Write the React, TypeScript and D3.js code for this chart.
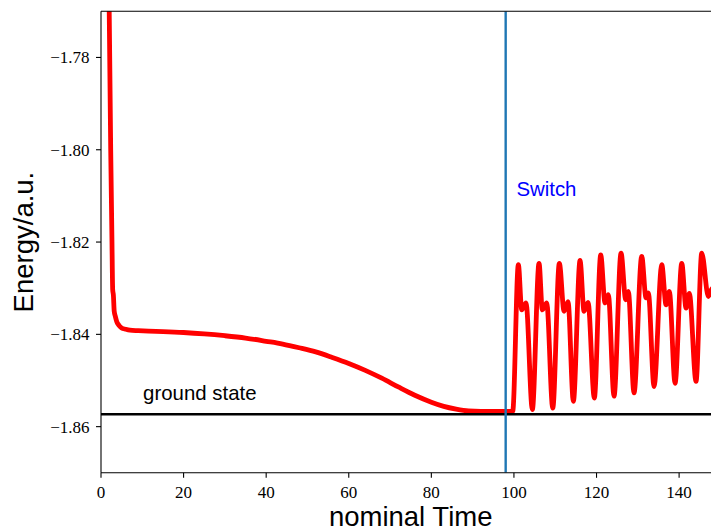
import React from "react";
import * as d3 from "d3";

// ---- data ----
const timeValues: number[] = [
  1.75, 2.35, 2.66, 2.83, 3.0, 3.2, 3.5, 3.8, 4.3, 5.0, 6.0, 7.0, 9.0, 11.5, 15, 20, 25, 30, 35, 40, 44, 48, 52, 56,
  60, 64, 68, 72, 76, 80, 83, 86, 89, 92, 96, 99.7,
  101.07, 101.89, 102.93, 104.46,
  106.08, 106.88, 107.94, 109.4,
  111.0, 112.14, 113.1, 114.39,
  116.01, 116.98, 117.95, 119.47,
  121.02, 122.06, 122.86, 124.24,
  125.94, 127.07, 127.7, 129.08,
  130.95, 131.99, 132.55, 133.93,
  135.8, 136.84, 137.64, 139.02,
  140.64, 141.68, 142.48, 144.1,
  145.48, 147.08, 148.0, 149.5,
];
const energyValues: number[] = [
  -1.75, -1.8, -1.8202, -1.8303, -1.8315, -1.835, -1.8362, -1.8372, -1.838, -1.8386, -1.8389, -1.8391, -1.8392,
  -1.8393, -1.8394, -1.8396, -1.8399, -1.8403, -1.8408, -1.8415, -1.8421, -1.8429, -1.8438, -1.845,
  -1.8463, -1.8478, -1.8495, -1.8514, -1.8532, -1.8547, -1.8556, -1.8562, -1.8566, -1.8567, -1.8567, -1.8567,
  -1.8249, -1.8347, -1.8332, -1.8563,
  -1.8246, -1.8347, -1.8332, -1.856,
  -1.8246, -1.835, -1.8329, -1.8545,
  -1.824, -1.835, -1.8331, -1.8538,
  -1.8228, -1.8332, -1.8314, -1.8534,
  -1.8224, -1.8325, -1.8307, -1.8527,
  -1.8231, -1.8321, -1.831, -1.8513,
  -1.8249, -1.8336, -1.8307, -1.8506,
  -1.8246, -1.8343, -1.8311, -1.8502,
  -1.8224, -1.8318, -1.83, -1.85,
];
const groundStateEnergy = -1.8573;
const switchTime = 98.0;
const xTicks: number[] = [0, 20, 40, 60, 80, 100, 120, 140];
const yTicks: number[] = [-1.86, -1.84, -1.82, -1.8, -1.78];
const xDomain: [number, number] = [0, 150];
const yDomain: [number, number] = [-1.87, -1.77];
const switchLabel = { x: 100.6, y: -1.8101, text: "Switch" };
const groundLabel = { x: 10.2, y: -1.8543, text: "ground state" };

const W = 711;
const H = 528;
const L = 101;
const R = 720.4;
const T = 11.3;
const B = 472.8;

export default function App() {
  const x = d3.scaleLinear().domain(xDomain).range([L, R]);
  const y = d3.scaleLinear().domain(yDomain).range([B, T]);
  const pts: [number, number][] = timeValues.map((t, i) => [t, energyValues[i]]);
  const line = d3
    .line<[number, number]>()
    .x((d) => x(d[0]))
    .y((d) => y(d[1]))
    .curve(d3.curveMonotoneX);
  const fmt = (v: number) => (v < 0 ? "\u2212" : "") + Math.abs(v).toFixed(2);
  const sans = "'Liberation Sans', Arial, Helvetica, sans-serif";
  const serif = "'Liberation Serif', 'Times New Roman', serif";

  return (
    <svg
      width={W}
      height={H}
      style={{ position: "absolute", left: 0, top: 0, background: "#fff" }}
    >
      <defs>
        <clipPath id="plotclip">
          <rect x={L} y={T} width={R - L} height={B - T} />
        </clipPath>
      </defs>
      <rect x={0} y={0} width={W} height={H} fill="#fff" />
      <g clipPath="url(#plotclip)">
        <path d={line(pts) || ""} fill="none" stroke="#ff0000" strokeWidth={4.8} strokeLinejoin="round" strokeLinecap="butt" />
        <line x1={L} x2={R} y1={y(groundStateEnergy)} y2={y(groundStateEnergy)} stroke="#000" strokeWidth={2.4} />
        <line x1={x(switchTime)} x2={x(switchTime)} y1={T} y2={B} stroke="#1f77b4" strokeWidth={2.4} />
      </g>
      <text x={x(switchLabel.x)} y={y(switchLabel.y)} fontFamily={sans} fontSize={20.4} fill="#0000ff">
        {switchLabel.text}
      </text>
      <text x={x(groundLabel.x)} y={y(groundLabel.y)} fontFamily={sans} fontSize={20.4} fill="#000">
        {groundLabel.text}
      </text>
      {/* spines */}
      <line x1={L} x2={L} y1={T} y2={B} stroke="#000" strokeWidth={1.1} />
      <line x1={L} x2={R} y1={B} y2={B} stroke="#000" strokeWidth={1.1} />
      <line x1={L} x2={R} y1={T} y2={T} stroke="#000" strokeWidth={1.1} />
      <line x1={R} x2={R} y1={T} y2={B} stroke="#000" strokeWidth={1.1} />
      {/* x ticks */}
      {xTicks.map((t) => (
        <g key={"x" + t}>
          <line x1={x(t)} x2={x(t)} y1={B} y2={B + 5} stroke="#000" strokeWidth={1.1} />
          <text x={x(t)} y={497.5} textAnchor="middle" fontFamily={serif} fontSize={17} fill="#000">
            {String(t)}
          </text>
        </g>
      ))}
      {/* y ticks */}
      {yTicks.map((t) => (
        <g key={"y" + t}>
          <line x1={L - 5} x2={L} y1={y(t)} y2={y(t)} stroke="#000" strokeWidth={1.1} />
          <text x={89.5} y={y(t) + 6} textAnchor="end" fontFamily={serif} fontSize={17} fill="#000">
            {fmt(t)}
          </text>
        </g>
      ))}
      <text x={(L + R) / 2} y={526} textAnchor="middle" fontFamily={sans} fontSize={27.5} fill="#000">
        nominal Time
      </text>
      <text
        transform={`translate(32.5, ${(T + B) / 2}) rotate(-90)`}
        textAnchor="middle"
        fontFamily={sans}
        fontSize={27.5}
        fill="#000"
      >
        Energy/a.u.
      </text>
    </svg>
  );
}
